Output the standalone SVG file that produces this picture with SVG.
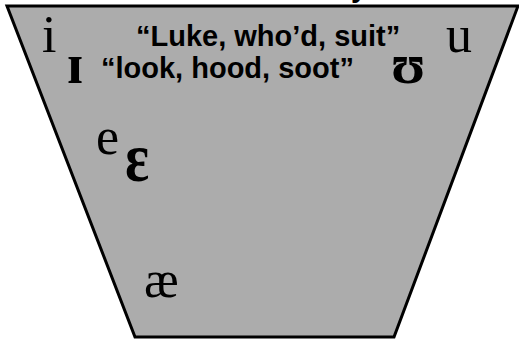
<svg xmlns="http://www.w3.org/2000/svg" width="519" height="339" viewBox="0 0 519 339">
<style>
.lbl{font-family:"Liberation Sans",Arial,sans-serif;font-weight:bold;font-size:29px;fill:#000}
.ipa{font-family:"Liberation Serif","DejaVu Serif",serif;font-size:52px;fill:#000}
.ipab{font-family:"Liberation Serif","DejaVu Serif",serif;font-size:56px;font-weight:bold;fill:#000}
</style>
<rect width="519" height="339" fill="#fff"/>
<text class="lbl" x="351" y="-3">y</text>
<polygon id="chart" points="7,6 518,6 394,337 135,337" fill="#acacac" stroke="#000" stroke-width="3" stroke-linejoin="miter"/>
<g id="labels">
<text class="lbl" x="136" y="46">“Luke, who’d, suit”</text>
<text class="lbl" x="101" y="78">“look, hood, soot”</text>
</g>
<g id="vowels">
<text id="v-i" class="ipa" x="42" y="52">i</text>
<text id="v-u" class="ipa" x="446" y="52">u</text>
<text id="v-I" class="ipab" x="67" y="83">ɪ</text>
<text id="v-U" class="ipab" x="391" y="83" font-size="60">ʊ</text>
<text id="v-e" class="ipa" x="96" y="154" font-size="55">e</text>
<text id="v-E" class="ipab" x="125" y="181" transform="translate(125 181) scale(1 1.25) translate(-125 -181)">ɛ</text>
<text id="v-ae" class="ipa" x="144" y="297">æ</text>
</g>
</svg>
